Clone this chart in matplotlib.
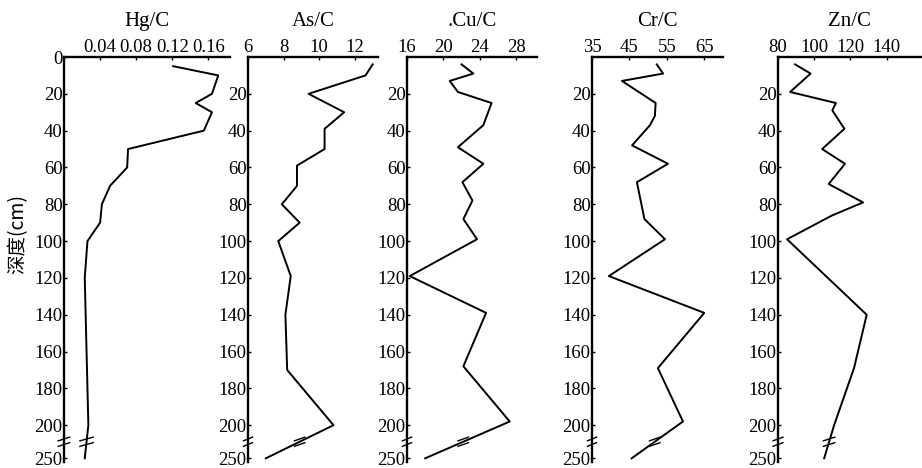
import numpy as np
import matplotlib
matplotlib.use("Agg")
import matplotlib.pyplot as plt
import matplotlib.transforms as mtransforms

plt.rcParams['font.family'] = ['Liberation Serif', 'DejaVu Serif']

# depth (cm) and element/carbon ratios
hg_depth = [5, 10, 20, 25, 30, 40, 50, 60, 70, 80, 90, 100, 120, 200, 250]
hg_val = [0.121, 0.171, 0.164, 0.146, 0.164, 0.155, 0.071, 0.070, 0.051, 0.042, 0.040,
          0.026, 0.023, 0.027, 0.023]

as_depth = [4, 10, 20, 30, 39, 50, 59, 70, 80, 90, 100, 119, 140, 170, 200, 250]
as_val = [13.0, 12.6, 9.4, 11.4, 10.3, 10.3, 8.75, 8.75, 7.9, 8.9, 7.7, 8.4, 8.1, 8.2, 10.8, 7.0]

cu_depth = [4, 9, 13, 19, 25, 37, 49, 58, 68, 78, 88, 99, 119, 139, 168, 198, 250]
cu_val = [22.0, 23.3, 20.7, 21.6, 25.3, 24.4, 21.6, 24.4, 22.1, 23.2, 22.2, 23.7, 16.3,
          24.7, 22.2, 27.3, 18.0]

cr_depth = [4, 9, 13, 25, 32, 37, 48, 58, 68, 88, 99, 119, 139, 169, 198, 250]
cr_val = [52.3, 54.0, 43.0, 52.0, 51.8, 50.5, 45.7, 55.3, 47.0, 49.0, 54.5, 39.5, 65.0,
          52.6, 59.3, 45.6]

zn_depth = [4, 9, 19, 25, 29, 39, 50, 58, 69, 79, 86, 99, 140, 169, 200, 250]
zn_val = [89.4, 98.0, 86.7, 112.0, 110.0, 116.7, 104.4, 117.0, 108.0, 127.0, 110.0, 85.0,
          129.0, 122.0, 111.0, 105.5]

titles = ['Hg/C', 'As/C', '.Cu/C', 'Cr/C', 'Zn/C']
xticks = [[0.04, 0.08, 0.12, 0.16], [6, 8, 10, 12], [16, 20, 24, 28],
          [35, 45, 55, 65], [80, 100, 120, 140]]
xtick_labels = [['0.04', '0.08', '0.12', '0.16'], ['6', '8', '10', '12'],
                ['16', '20', '24', '28'], ['35', '45', '55', '65'],
                ['80', '100', '120', '140']]
xlims = [(0, 0.184), (6, 13.3), (16, 30.3), (35, 70), (80, 159)]
depth_ticks = [0, 20, 40, 60, 80, 100, 120, 140, 160, 180, 200, 250]


def ypos(d):
    # broken depth axis: 200-250 cm squeezed
    d = np.asarray(d, dtype=float)
    return np.where(d <= 200, d, 200 + (d - 200) * 18 / 50)


W, H = 922, 468
fig = plt.figure(figsize=(W / 100, H / 100), dpi=100)

# left/right pixel edges of each panel
edges = [(64, 230), (248, 378), (407, 537), (592, 723), (778, 921)]
top_px, bot_px = 57, 462

series = [(hg_depth, hg_val), (as_depth, as_val), (cu_depth, cu_val),
          (cr_depth, cr_val), (zn_depth, zn_val)]

for i, ((l, r), (dep, val)) in enumerate(zip(edges, series)):
    ax = fig.add_axes([l / W, 1 - bot_px / H, (r - l) / W, (bot_px - top_px) / H])
    yy = ypos(dep)
    ax.plot(val, yy, color='black', lw=1.4)
    ax.set_xlim(*xlims[i])
    ax.set_ylim(220, 0)
    ax.xaxis.tick_top()
    ax.set_xticks(xticks[i])
    ax.set_xticklabels(xtick_labels[i])
    yt = depth_ticks if i == 0 else depth_ticks[1:]
    ax.set_yticks(ypos(yt))
    ax.set_yticklabels([str(t) for t in yt])
    ax.tick_params(axis='both', labelsize=13.5, length=2, width=1, direction='in', pad=1)
    for s in ['right', 'bottom']:
        ax.spines[s].set_visible(False)
    for s in ['left', 'top']:
        ax.spines[s].set_linewidth(1.7)
    ax.set_title(titles[i], fontsize=15, pad=22)

    # break marks on spine and on data line
    trans = mtransforms.blended_transform_factory(ax.transAxes, ax.transData)
    xs_line = np.interp(209, yy, val)
    span = xlims[i][1] - xlims[i][0]
    for yb in (207.5, 210.5):
        ax.plot([-0.035, 0.035], [yb + 1, yb - 1], color='black', lw=1.0,
                transform=trans, clip_on=False)
        ax.plot([xs_line - 0.04 * span, xs_line + 0.04 * span], [yb + 1, yb - 1],
                color='black', lw=1.0, clip_on=False)

fig.text(18 / W, 0.5, '深度(cm)', rotation=90, va='center', ha='center',
         fontsize=14, family=['Noto Sans CJK SC', 'DejaVu Sans'])

fig.savefig('out.png', dpi=100)
